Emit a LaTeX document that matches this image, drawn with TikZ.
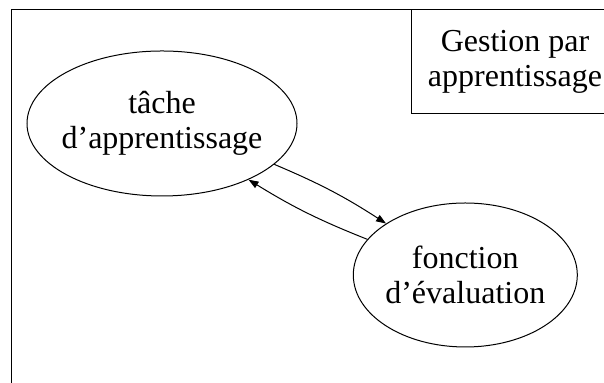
\documentclass[tikz,border=0pt]{standalone}
\usepackage{fontspec}
\setmainfont{Liberation Serif}
\usetikzlibrary{arrows.meta, shapes.geometric}

\begin{document}
\begin{tikzpicture}[x=0.5pt, y=0.5pt, line width=0.5pt,
  every node/.style={font=\fontsize{16}{17.5}\selectfont, align=center},
  bulle/.style={draw, ellipse, inner xsep=-6pt, inner ysep=0pt},
  lien/.style={-{Triangle[length=5pt,width=3.6pt]}, bend left=5}]
\clip (0,0) rectangle (604,383);
% Frame
\draw (11.5,-20) rectangle (640,373);
\node[draw, minimum width=103.3pt, minimum height=52pt] (gestion) at (515,321) {Gestion par\\apprentissage};
% Task and evaluation
\node[bulle, minimum width=135pt, minimum height=72.5pt] (tache) at (162,259.5) {tâche\\d'apprentissage};
\node[bulle, minimum width=112pt, minimum height=72pt] (eval) at (465.3,108) {fonction\\d'évaluation};
\draw[lien] (tache.-20) to (eval.147);
\draw[lien] (eval.160) to (tache.-33);
\end{tikzpicture}
\end{document}
